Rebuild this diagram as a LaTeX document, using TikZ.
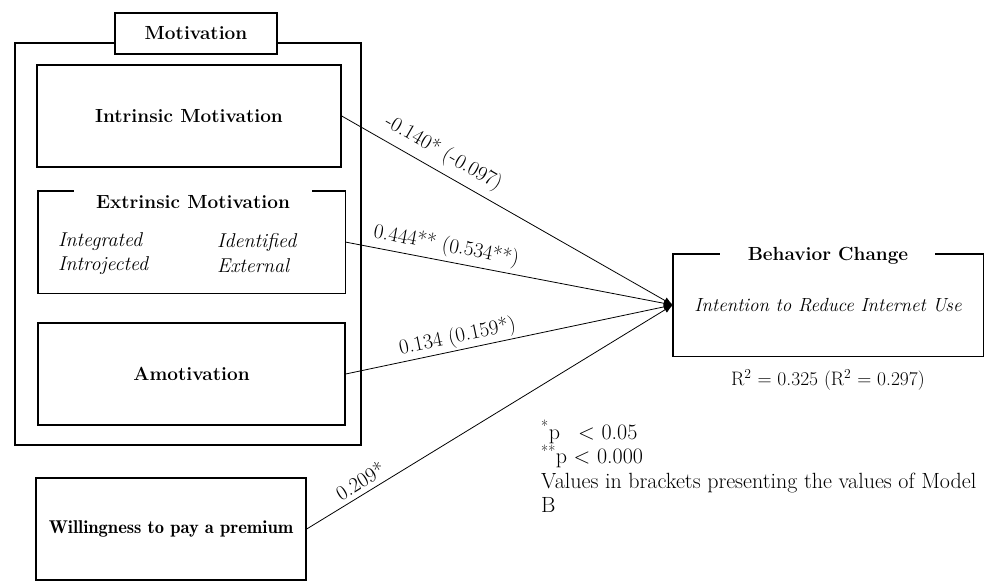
\documentclass[tikz,border=0pt]{standalone}
\usetikzlibrary{arrows.meta}
\begin{document}
\begin{tikzpicture}[x=1pt,y=-1pt]
\tikzset{
  txt/.style={font=\fontsize{20}{24}\selectfont, inner sep=1pt},
  bld/.style={font=\fontsize{19}{22}\selectfont\bfseries, inner sep=1pt},
  itl/.style={font=\fontsize{20}{24}\selectfont\itshape, inner sep=1pt},
  box/.style={draw, line width=1.4pt, inner sep=0pt, font=\fontsize{19}{22}\selectfont\bfseries},
  openbox/.style={inner sep=0pt},
  frame/.style={line width=1.4pt},
  conn/.style={line width=0.8pt, -{Latex[length=9pt,width=7pt]}},
  coef/.style={font=\fontsize{21}{24}\selectfont, sloped, inner sep=1pt},
}
\useasboundingbox (0,0) rectangle (997,581);
% Motivation group
\node[box, minimum width=346pt, minimum height=402pt] (motiv) at (188,244) {};
\node[box, fill=white, minimum width=162pt, minimum height=41pt] (motivlabel) at (196,33.5) {Motivation};
\node[box, minimum width=304pt, minimum height=102pt] (intr) at (189,116) {Intrinsic Motivation};
\node[openbox, minimum width=307pt, minimum height=102pt] (extr) at (191.5,242) {};
\draw[frame] ([xshift=36pt]extr.north west) -- (extr.north west) -- (extr.south west) -- (extr.south east) -- (extr.north east) -- ([xshift=-33pt]extr.north east);
\node[bld] (extrlabel) at (193,202) {Extrinsic Motivation};
\node[itl, anchor=west] (integ) at (57,242) {Integrated};
\node[itl, anchor=west] (introj) at (57,266) {Introjected};
\node[itl, anchor=west] (ident) at (216,242) {Identified};
\node[itl, anchor=west] (extern) at (216,266) {External};
\node[box, minimum width=307pt, minimum height=102pt] (amot) at (191.5,374) {Amotivation};
% Willingness
\node[box, minimum width=270pt, minimum height=102pt, font=\fontsize{18.5}{22}\fontseries{b}\selectfont] (will) at (171,529) {Willingness to pay a premium};
% Behavior change
\node[openbox, minimum width=310pt, minimum height=102pt, font=\fontsize{19}{22}\selectfont\itshape] (beh) at (828,305) {Intention to Reduce Internet Use};
\draw[frame] ([xshift=47pt]beh.north west) -- (beh.north west) -- (beh.south west) -- (beh.south east) -- (beh.north east) -- ([xshift=-48pt]beh.north east);
\node[bld] (behlabel) at (828,256) {Behavior Change};
\node[txt, font=\fontsize{19.5}{23}\selectfont] (r2) at (828,380) {R\textsuperscript{2} = 0.325 (R\textsuperscript{2} = 0.297)};
% Connectors
\draw[conn] (intr.east) -- (beh.west) node[coef, pos=0.28, above=6pt] (c1) {-0.140* (-0.097)};
\draw[conn] (extr.east) -- (beh.west) node[coef, pos=0.30, above=3pt] (c2) {0.444** (0.534**)};
\draw[conn] (amot.east) -- (beh.west) node[coef, pos=0.35, above=1pt] (c3) {0.134 (0.159*)};
\draw[conn] (will.east) -- (beh.west) node[coef, pos=0.165, above=4pt] (c4) {0.209*};
% Notes
\node[anchor=north west, align=left, inner sep=0pt, font=\fontsize{22}{24.5}\selectfont] (notes) at (541,420)
  {\makebox[37pt][l]{\textsuperscript{*}p}< 0.05\\
   \textsuperscript{**}p < 0.000\\
   Values in brackets presenting the values of Model\\
   B};
\end{tikzpicture}
\end{document}
